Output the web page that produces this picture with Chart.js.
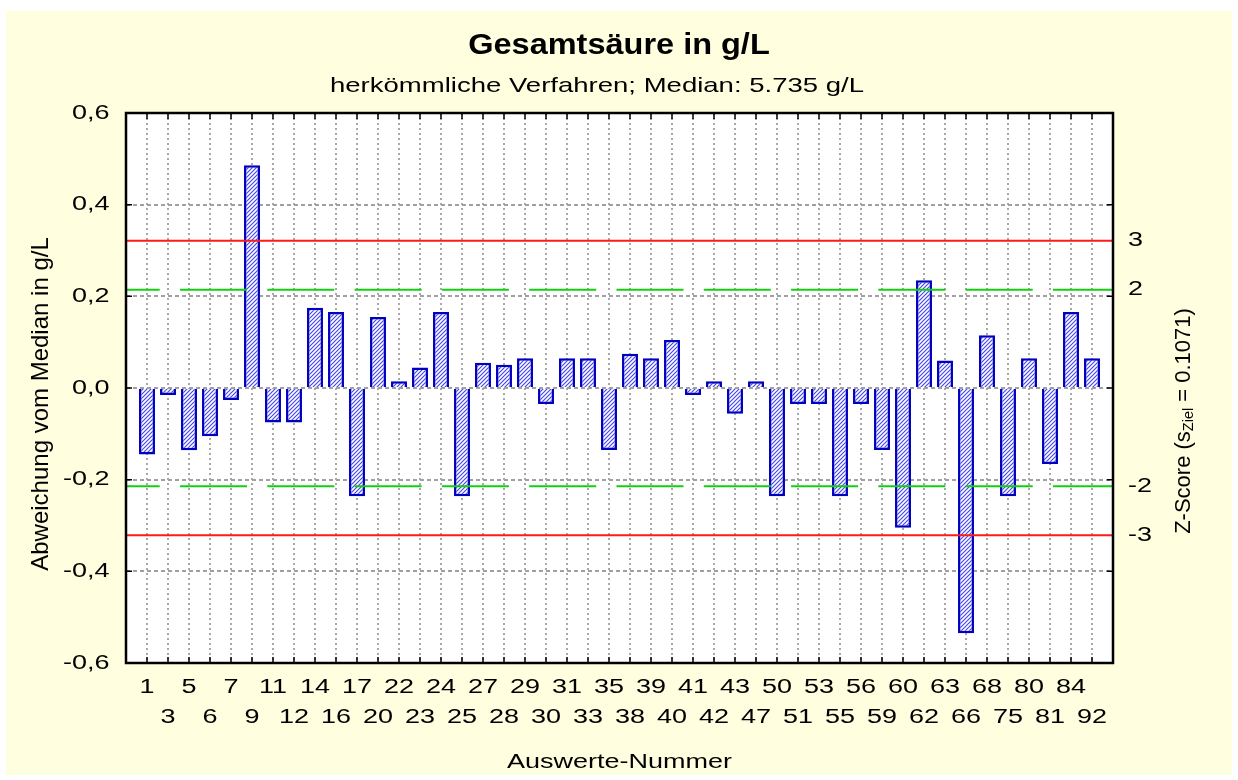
<!DOCTYPE html>
<html>
<head>
<meta charset="utf-8">
<script src="https://cdn.jsdelivr.net/npm/chart.js@4/dist/chart.umd.min.js"></script>
<style>
  html, body { margin: 0; padding: 0; background: #ffffff; }
  #chart { display: block; }
</style>
</head>
<body>
<canvas id="chart" width="1238" height="780"></canvas>
<script>
// Auswerte-Nummern (x categories, in plot order)
const labNumbers = ['1', '3', '5', '6', '7', '9', '11', '12', '14', '16', '17', '20', '22', '23', '24', '25',
    '27', '28', '29', '30', '31', '33', '35', '38', '39', '40', '41', '42', '43', '47', '50', '51',
    '53', '55', '56', '59', '60', '62', '63', '66', '68', '75', '80', '81', '84', '92'];

// Abweichung vom Median in g/L
const deviations = [-0.145, -0.015, -0.136, -0.105, -0.026, 0.486, -0.075, -0.075, 0.175, 0.166, -0.236, 0.155,
    0.015, 0.045, 0.166, -0.236, 0.055, 0.051, 0.065, -0.035, 0.065, 0.065, -0.135, 0.075,
    0.065, 0.105, -0.015, 0.015, -0.056, 0.015, -0.236, -0.035, -0.035, -0.236, -0.035, -0.135,
    -0.305, 0.235, 0.060, -0.535, 0.115, -0.236, 0.065, -0.166, 0.166, 0.065];

const sTarget = 0.1071;
const yTicks = [-0.6, -0.4, -0.2, 0.0, 0.2, 0.4, 0.6];
const zWarn = [-2, 2];     // green dashed limits
const zAction = [-3, 3];   // red limits
const zTickLabels = [-3, -2, 2, 3];

const titleText = 'Gesamtsäure in g/L';
const subtitleText = 'herkömmliche Verfahren; Median: 5.735 g/L';
const yTitleText = 'Abweichung vom Median in g/L';
const xTitleText = 'Auswerte-Nummer';

const FONT = "'Liberation Sans', Arial, sans-serif";

function hatchPattern() {
    const c = document.createElement('canvas');
    c.width = 4;
    c.height = 4;
    const g = c.getContext('2d');
    g.fillStyle = '#ffffff';
    g.fillRect(0, 0, 4, 4);
    g.strokeStyle = '#4848e8';
    g.lineWidth = 1.2;
    g.beginPath();
    g.moveTo(0, 4); g.lineTo(4, 0);
    g.moveTo(-1, 1); g.lineTo(1, -1);
    g.moveTo(3, 5); g.lineTo(5, 3);
    g.stroke();
    return document.getElementById('chart').getContext('2d').createPattern(c, 'repeat');
}

const nCat = labNumbers.length;
const barPoints = deviations.map((v, i) => ({ x: i + 1, y: v }));

function limitLine(z, color, dash, offset) {
    return {
        type: 'line',
        data: [{ x: 0, y: z * sTarget }, { x: nCat + 1, y: z * sTarget }],
        borderColor: color,
        borderWidth: 2,
        borderDash: dash,
        borderDashOffset: offset,
        pointRadius: 0,
        order: 1
    };
}

// the original picture has its upright text drawn wider than normal
const stretchPlugin = {
    id: 'stretchText',
    beforeInit(chart) {
        const ctx = chart.ctx;
        const orig = ctx.fillText.bind(ctx);
        ctx.fillText = function (text, x, y, maxWidth) {
            const m = ctx.getTransform();
            if (Math.abs(m.b) > 1e-6) return orig(text, x, y);
            const k = ctx.font.indexOf('bold') >= 0 ? 1.12 : 1.35;
            ctx.save();
            ctx.translate(x, y);
            ctx.scale(k, 1);
            orig(text, 0, 0);
            ctx.restore();
        };
    }
};

// background panel, white plot area, frame, inward tick marks, extra titles
const framePlugin = {
    id: 'frame',
    beforeDraw(chart) {
        const ctx = chart.ctx;
        const a = chart.chartArea;
        ctx.save();
        ctx.fillStyle = '#ffffe0';
        ctx.fillRect(6, 11, chart.width - 12, chart.height - 16);
        ctx.fillStyle = '#ffffff';
        ctx.fillRect(a.left, a.top, a.right - a.left, a.bottom - a.top);
        ctx.restore();
    },
    afterDraw(chart) {
        const ctx = chart.ctx;
        const a = chart.chartArea;
        const xs = chart.scales.x;
        const ys = chart.scales.y;
        ctx.save();
        ctx.strokeStyle = '#000000';
        ctx.lineWidth = 1.5;
        ctx.beginPath();
        for (let i = 1; i <= nCat; i++) {
            const px = xs.getPixelForValue(i);
            ctx.moveTo(px, a.top); ctx.lineTo(px, a.top + 6);
            ctx.moveTo(px, a.bottom); ctx.lineTo(px, a.bottom - 6);
        }
        yTicks.forEach(v => {
            const py = ys.getPixelForValue(v);
            ctx.moveTo(a.left, py); ctx.lineTo(a.left + 6, py);
            ctx.moveTo(a.right, py); ctx.lineTo(a.right - 6, py);
        });
        ctx.stroke();
        ctx.lineWidth = 2.5;
        ctx.strokeRect(a.left, a.top, a.right - a.left, a.bottom - a.top);

        ctx.fillStyle = '#000000';
        ctx.textBaseline = 'middle';

        // subtitle
        ctx.textAlign = 'left';
        ctx.font = '20.4px ' + FONT;
        ctx.fillText(subtitleText, 330, 86);

        const midY = (a.top + a.bottom) / 2;

        // left axis title, reading upwards
        ctx.save();
        ctx.translate(41, midY + 16);
        ctx.rotate(-Math.PI / 2);
        ctx.textAlign = 'center';
        ctx.font = '24px ' + FONT;
        ctx.fillText(yTitleText, 0, 0);
        ctx.restore();

        // right axis title with subscript, reading upwards
        const zs = chart.scales.z;
        ctx.translate(zs.left + 71, midY + 33);
        ctx.rotate(-Math.PI / 2);
        ctx.textAlign = 'left';
        const big = '22px ' + FONT;
        const small = '14.5px ' + FONT;
        const parts = [['Z-Score (s', big, 0], ['Ziel', small, 5], [' = 0.1071)', big, 0]];
        let total = 0;
        parts.forEach(p => { ctx.font = p[1]; total += ctx.measureText(p[0]).width; });
        let x = -total / 2;
        parts.forEach(p => {
            ctx.font = p[1];
            ctx.fillText(p[0], x, p[2]);
            x += ctx.measureText(p[0]).width;
        });
        ctx.restore();
    }
};

new Chart(document.getElementById('chart'), {
    data: {
        datasets: [
            {
                type: 'bar',
                data: barPoints,
                backgroundColor: hatchPattern(),
                borderColor: '#0000c0',
                borderWidth: 2.5,
                barPercentage: 0.76,
                categoryPercentage: 1,
                order: 2
            },
            limitLine(zAction[1], '#ff1a1a', [], 0),
            limitLine(zAction[0], '#ff1a1a', [], 0),
            limitLine(zWarn[1], '#10d010', [67, 20.3], 33.3),
            limitLine(zWarn[0], '#10d010', [67, 20.3], 33.3)
        ]
    },
    options: {
        responsive: false,
        animation: false,
        layout: { padding: { top: 0, bottom: 0, left: 0, right: 0 } },
        plugins: {
            legend: { display: false },
            tooltip: { enabled: false },
            title: {
                display: true,
                text: titleText,
                color: '#000000',
                font: { family: FONT, size: 29, weight: 'bold' },
                padding: { top: 28.6, bottom: 49.6 }
            }
        },
        scales: {
            x: {
                type: 'linear',
                min: 0,
                max: nCat + 1,
                offset: false,
                afterBuildTicks: s => { s.ticks = labNumbers.map((l, i) => ({ value: i + 1 })); },
                afterFit: s => { s.height = 117; },
                ticks: {
                    autoSkip: false,
                    maxRotation: 0,
                    padding: 10,
                    color: '#000000',
                    font: { family: FONT, size: 20, lineHeight: 1.475 },
                    callback: v => {
                        const l = labNumbers[v - 1];
                        return (v % 2 === 1) ? [l, ''] : ['', l];
                    }
                },
                grid: { color: '#a8a8a8', lineWidth: 2, drawTicks: false, offset: false },
                border: { display: false, dash: [2, 3] },
                title: {
                    display: true,
                    text: xTitleText,
                    color: '#000000',
                    font: { family: FONT, size: 20 },
                    padding: { top: 0, bottom: 6 }
                }
            },
            y: {
                position: 'left',
                min: -0.6,
                max: 0.6,
                afterBuildTicks: s => { s.ticks = yTicks.map(v => ({ value: v })); },
                afterFit: s => { s.width = 126; },
                ticks: {
                    padding: 16.5,
                    color: '#000000',
                    font: { family: FONT, size: 20 },
                    callback: v => v.toFixed(1).replace('.', ',')
                },
                grid: { color: '#a0a0a0', lineWidth: 2, drawTicks: false },
                border: { display: false, dash: [4, 3] }
            },
            z: {
                position: 'right',
                min: -0.6 / sTarget,
                max: 0.6 / sTarget,
                afterBuildTicks: s => { s.ticks = zTickLabels.map(v => ({ value: v })); },
                afterFit: s => { s.width = 125; },
                ticks: {
                    padding: 15,
                    color: '#000000',
                    font: { family: FONT, size: 20 },
                    callback: v => String(v)
                },
                grid: { display: false, drawTicks: false },
                border: { display: false }
            }
        }
    },
    plugins: [stretchPlugin, framePlugin]
});
</script>
</body>
</html>
